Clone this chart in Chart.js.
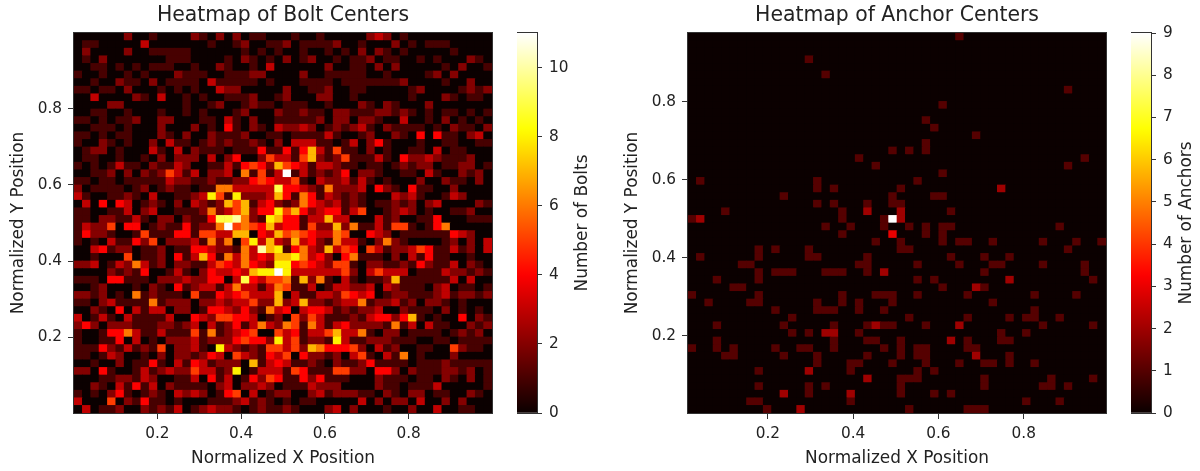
<!DOCTYPE html>
<html><head><meta charset="utf-8">
<style>
html,body{margin:0;padding:0;background:#fff;width:1200px;height:471px;overflow:hidden}
canvas{position:absolute;top:0}
</style>
<script src="https://cdn.jsdelivr.net/npm/chart.js@4/dist/chart.umd.min.js"></script>
</head><body>
<canvas id="h1" width="505" height="471" style="left:0;width:505px;height:471px"></canvas>
<canvas id="c1" width="83" height="471" style="left:517px;width:83px;height:471px"></canvas>
<canvas id="h2" width="506" height="471" style="left:614px;width:506px;height:471px"></canvas>
<canvas id="c2" width="69" height="471" style="left:1131px;width:69px;height:471px"></canvas>
<script>
const binCount = 50;
const tickValues = [0.2, 0.4, 0.6, 0.8];
const boltBar = [0, 2, 4, 6, 8, 10];
const anchorBar = [0, 1, 2, 3, 4, 5, 6, 7, 8, 9];
const boltMax = 11, anchorMax = 9;
const boltXRange = [0.001, 0.999], boltYRange = [0.002, 0.998];
const anchorXRange = [0.0127, 0.993], anchorYRange = [0.0015, 0.977];

// bolt counts per bin, top row first, one hex digit per column
const boltRows = [
"0000002001 0000210202 0110001001 0000023201 0000000000",
"0110000030 0000001001 2001120111 1200100020 1011100000",
"0200002001 1111000000 1010100100 1010202101 0000010000",
"0102000000 0111000010 2101020120 0101120110 0101000210",
"0011010101 1100100210 0103000000 2001102020 0000102001",
"1001001010 0021110011 1220000200 1111100100 0012020000",
"0010021102 0111103111 1101000111 1011111112 0000100200",
"1101102000 1010100322 0000020011 2001100000 1200001212",
"0030000210 3001010011 1200120002 2001000000 1000210110",
"0000220000 0001001200 1211011100 1000210210 0020000000",
"0011001000 1001010001 2000211211 0221112212 1010110101",
"1101011200 2200011031 0200111112 0220221003 0010201010",
"0011101000 2000201041 0210322320 1212310211 1101021102",
"1101011000 2102002111 2001101111 3100120021 0404110230",
"1002101002 0311012121 1210203331 1013024100 0100110011",
"0122010003 1030211101 1141141473 1511020100 1103011000",
"0110010010 2022203024 0025331572 1251113104 2232111200",
"1010131102 1132001131 4542754313 3211011012 1220112201",
"0011202021 2531302230 61513b1312 1240221001 1031002120",
"1101101111 1322112112 2454335103 2231310100 0200211020",
"2011110120 1211011663 3333944321 6222304210 4110020000",
"3100112103 0011238518 2223741641 3212100032 3100132000",
"0304043012 1020321275 7134212643 2312101121 2023000021",
"1100113023 0011126235 7244857423 4413500123 2010011200",
"1102211310 220211499a 6218744133 7330003120 0114000111",
"1322504401 21141226b5 6547344152 2726113155 1014600000",
"1422100151 1144155337 7043756543 3650043201 1111143200",
"1010311425 0222316260 5837327342 1633102621 0000120203",
"0034122011 2011443221 63a7814632 7354053122 3541131203",
"0010005011 2041374163 6343778634 2046111020 3141100100",
"2230132631 2022113543 6432884543 2551022112 1421130210",
"0000212140 0131024334 3788b83333 3352035333 0111322121",
"1110441110 2223224403 9435561726 1031011271 1111130300",
"0012000102 1041233136 3313651130 1332230321 1102301101",
"2212010612 1110511434 5333703113 3254340122 1112312212",
"1102311116 1222022323 3522723722 1233612231 2022101000",
"0021040313 3022014432 4216340344 3121223002 1110201010",
"3013103111 1300432554 4301205253 1112134424 7101004021",
"2420222111 2212303124 1363265163 1342222161 3031100212",
"1001446311 3111516123 4500534133 5733610220 1111012120",
"1001140301 0222312224 5442835122 1831122211 1001101111",
"1114213121 5022310832 1215535276 4445203120 0110052110",
"1101320010 2022124305 3214350422 1203510316 0100020000",
"0010020114 1031431222 0713431121 0211241111 0111211111",
"2204100131 2322533128 0133315411 1552204420 2111221201",
"0001122132 0011304130 1425411424 1110002111 0110210201",
"0021031413 0211110230 2232011132 2200002110 1113000001",
"1010241012 1032320145 0301220023 1222110210 2201100210",
"3000502141 1010001112 3121010110 0000302022 0300202000",
"0301120021 2130123221 0121121000 2302000100 2003001100"
];

// anchor bins holding one anchor: column numbers per row, top row first
const anchorSingles = [
[32],[],[],[14],[],[16],[],[45],[],[30],
[],[28],[29],[34],[28],[24,26,28],[20,47],[22,45],[30],[1,15,27],
[15,17,25],[11,24,29,30],[15,17,21,24,25],[4,18,31],[0,18,23],[16,19,23,26,28,30,31,44],[18,28,30],[22,25,30,32,33,36,42,46,49],[8,10,14,25,26,45],[1,8,14,15,21,31,35,38],
[6,7,20,21,27,32,36,37,42,47],[8,10,11,12,16,17,18,21,35,47],[3,8,27,29,48],[5,6,30,35],[0,8,18,22,23,24,27,33,41,46],[2,7,8,15,18,20,24,36],[10,15,16,17,20,23,41],[12,26,33,38,40,41,44],[3,11,17,21,23,24,28,42,48],[12,14,20,37,40],
[3,17,21,22,25,33,37,38],[0,3,5,10,13,14,17,23,25,27,28,33,34],[4,5,11,15,21,25,27,28,38],[15,19,20,24,28,32,35,36,38,41],[8,19,27,29],[25,26,27,35,43,48],[8,14,16,25,35,42,43,45],[14,25,29,31],[7,8,19,40,44],[9,26,33,34,35]
];
// anchor bins holding more than one: [column, row, count]
const anchorHigher = [
[37,20,2],[21,23,2],[25,23,2],[1,24,2],[24,24,9],[25,24,2],[24,26,3],[23,31,2],[38,32,2],[34,33,2],[22,38,2],
[32,38,2],[16,39,2],[17,39,2],[31,40,2],[34,42,2],[14,44,2],[21,45,2],[11,47,2],[19,47,2],[13,49,2]
];

const boltGrid = boltRows.map(r => [...r.replace(/ /g,'')].map(c => parseInt(c,16)));
const anchorGrid = anchorSingles.map(cols => {
  const row = new Array(binCount).fill(0);
  cols.forEach(c => row[c] = 1);
  return row;
});
anchorHigher.forEach(([c,r,n]) => anchorGrid[r][c] = n);

function hot(t){
  const cl = v => Math.max(0, Math.min(1, v));
  const r = cl(0.0416 + (1-0.0416)*t/0.365079);
  const g = cl((t-0.365079)/(0.746032-0.365079));
  const b = cl((t-0.746032)/(1-0.746032));
  return `rgb(${Math.round(r*255)},${Math.round(g*255)},${Math.round(b*255)})`;
}

const FONT = '"DejaVu Sans"';
const INK = '#222';
const LABEL_SIZE = 16.9, TICK_SIZE = 15.3, TITLE_SIZE = 20.4;
Chart.defaults.font.family = FONT;
Chart.defaults.color = INK;

const frame = {
  id:'frame',
  afterDraw(chart){
    const a = chart.chartArea, c = chart.ctx;
    c.save(); c.strokeStyle = '#333'; c.lineWidth = 1;
    c.strokeRect(Math.round(a.left)-0.5, Math.round(a.top)-0.5, Math.round(a.width)+1, Math.round(a.height)+1);
    c.restore();
  }
};
const backing = {
  id:'backing',
  beforeDatasetsDraw(chart){
    const a = chart.chartArea, c = chart.ctx;
    c.save(); c.fillStyle = hot(0); c.fillRect(a.left, a.top, a.width, a.height); c.restore();
  }
};

function heatmap(id, grid, vmax, xr, yr, title, xLabel, yLabel, rightPad){
  const w = (xr[1]-xr[0])/binCount, h = (yr[1]-yr[0])/binCount;
  const data = [], colors = [];
  grid.forEach((row, r) => row.forEach((v, c) => {
    data.push({x: xr[0]+(c+0.5)*w, y: [yr[1]-(r+1)*h, yr[1]-r*h]});
    colors.push(hot(v/vmax));
  }));
  const axis = (range, label) => ({
    type:'linear', min:range[0], max:range[1], offset:false,
    afterBuildTicks: s => { s.ticks = tickValues.map(value => ({value})); },
    ticks:{ callback:v => v.toFixed(1), font:{size:TICK_SIZE}, color:INK, autoSkip:false, maxRotation:0, padding:6 },
    grid:{ drawOnChartArea:false, drawTicks:true, tickLength:6, tickColor:'#333', offset:false },
    border:{ display:false },
    title:{ display:true, text:label, font:{size:LABEL_SIZE}, color:INK, padding:{top:0,bottom:2.5} }
  });
  const xAxis = axis(xr, xLabel); xAxis.afterFit = s => { s.height = 58; };
  const yAxis = axis(yr, yLabel); yAxis.afterFit = s => { s.width = 74; };
  yAxis.title.padding = {top:8,bottom:0};
  return new Chart(document.getElementById(id), {
    type:'bar',
    data:{ datasets:[{ data, backgroundColor:colors, borderWidth:0, grouped:false,
      barPercentage:1, categoryPercentage:1 }] },
    options:{
      responsive:false, animation:false, events:[],
      layout:{ padding:{left:0,right:rightPad,top:0,bottom:0} },
      scales:{ x:xAxis, y:yAxis },
      plugins:{ legend:{display:false}, tooltip:{enabled:false},
        title:{ display:true, text:title, fullSize:false, color:INK, font:{size:TITLE_SIZE,weight:'normal'}, padding:{top:3.7,bottom:4.8} } }
    },
    plugins:[backing, frame]
  });
}

function colorbar(id, vmax, ticks, label, labelX){
  const rotated = {
    id:'rotatedLabel',
    afterDraw(chart){
      const c = chart.ctx, a = chart.chartArea;
      c.save();
      c.translate(labelX, (a.top+a.bottom)/2);
      c.rotate(-Math.PI/2);
      c.font = `${LABEL_SIZE}px ${FONT}`; c.fillStyle = INK; c.textAlign='center'; c.textBaseline='middle';
      c.fillText(label, 0, 0);
      c.restore();
    }
  };
  return new Chart(document.getElementById(id), {
    type:'bar',
    data:{ labels:[''], datasets:[{
      data:[[0,vmax]], borderWidth:0, barPercentage:1, categoryPercentage:1,
      backgroundColor(ctx){
        const a = ctx.chart.chartArea;
        if(!a) return '#000';
        const g = ctx.chart.ctx.createLinearGradient(0,a.bottom,0,a.top);
        for(let i=0;i<=64;i++) g.addColorStop(i/64, hot(i/64));
        return g;
      }
    }]},
    options:{
      responsive:false, animation:false, events:[],
      layout:{ padding:{left:0,right:0,top:33,bottom:58} },
      scales:{
        x:{ display:false },
        y:{ position:'right', min:0, max:vmax,
            afterBuildTicks: s => { s.ticks = ticks.map(value => ({value})); },
            afterFit: s => { s.width = document.getElementById(id).width - 20; },
            ticks:{ font:{size:TICK_SIZE}, color:INK, padding:7, autoSkip:false },
            grid:{ drawOnChartArea:false, drawTicks:true, tickLength:5, tickColor:'#333' },
            border:{ display:false } }
      },
      plugins:{ legend:{display:false}, tooltip:{enabled:false} }
    },
    plugins:[frame, rotated]
  });
}

heatmap('h1', boltGrid, boltMax, boltXRange, boltYRange, 'Heatmap of Bolt Centers', 'Normalized X Position', 'Normalized Y Position', 13);
colorbar('c1', boltMax, boltBar, 'Number of Bolts', 66);
heatmap('h2', anchorGrid, anchorMax, anchorXRange, anchorYRange, 'Heatmap of Anchor Centers', 'Normalized X Position', 'Normalized Y Position', 14);
colorbar('c2', anchorMax, anchorBar, 'Number of Anchors', 56);
</script>
</body></html>
